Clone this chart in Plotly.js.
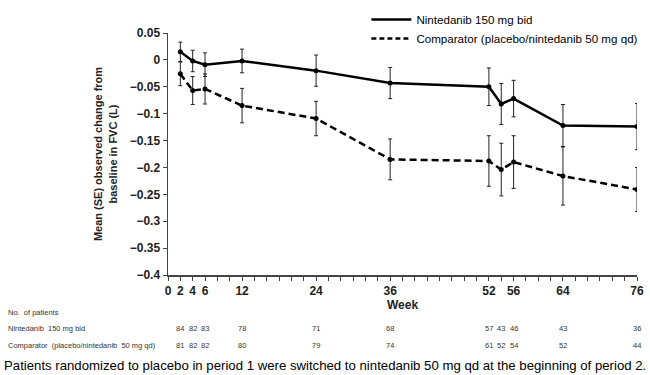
<!DOCTYPE html>
<html><head><meta charset="utf-8">
<script src="https://cdn.plot.ly/plotly-3.0.1.min.js"></script>
<style>html,body{margin:0;padding:0;background:#fff}#c{width:650px;height:375px}</style>
</head><body><div id="c"></div>
<script>
const weeks = [2,4,6,12,24,36,52,54,56,64,76];
const nintMean = [0.015,-0.002,-0.009,-0.002,-0.02,-0.043,-0.05,-0.082,-0.072,-0.122,-0.124];
const nintSE = [0.018,0.02,0.022,0.022,0.029,0.029,0.035,0.038,0.034,0.039,0.043];
const compMean = [-0.026,-0.057,-0.054,-0.085,-0.109,-0.185,-0.188,-0.204,-0.19,-0.216,-0.241];
const compSE = [0.022,0.026,0.028,0.032,0.032,0.038,0.047,0.049,0.049,0.054,0.041];
const nintN = [84,82,83,78,71,68,57,43,46,43,36];
const compN = [81,82,82,80,79,74,61,52,54,52,44];
const xTickVals = [0,2,4,6,12,24,36,52,56,64,76];
const seriesNames = ['Nintedanib 150 mg bid','Comparator (placebo/nintedanib 50 mg qd)'];
const rowLabels = ['Nintedanib  150 mg bid','Comparator  (placebo/nintedanib  50 mg qd)'];
const headerLabel = 'No.  of patients';
const caption = 'Patients randomized to placebo in period 1 were switched to nintedanib 50 mg qd at the beginning of period 2.';

const F = 'Liberation Sans, Arial, sans-serif';
const DASH = '7px,4px';
function series(y, se, dash){
  return {x: weeks, y: y, type:'scatter', mode:'lines+markers', showlegend:false,
    line:{color:'#000', width:2.5, dash:dash}, marker:{color:'#000', size:5},
    error_y:{type:'data', array:se, visible:true, color:'#222', thickness:1, width:2}};
}
const traces = [
  series(nintMean, nintSE, 'solid'),
  series(compMean, compSE, DASH),
  {x:[null], y:[null], type:'scatter', mode:'lines', name:seriesNames[0], line:{color:'#000', width:2.5}},
  {x:[null], y:[null], type:'scatter', mode:'lines', name:seriesNames[1], line:{color:'#000', width:2.5, dash:'5px,3px'}}
];
const ann = [];
const rowY = [-0.223, -0.293];
const small = {family:F, size:7.5, color:'#333'};
ann.push({xref:'paper', yref:'paper', x:-0.345, y:-0.157, xanchor:'left', yanchor:'middle', text:headerLabel, showarrow:false, font:small});
[nintN, compN].forEach((arr, r) => {
  ann.push({xref:'paper', yref:'paper', x:-0.345, y:rowY[r], xanchor:'left', yanchor:'middle', text:rowLabels[r], showarrow:false, font:small});
  arr.forEach((n, i) => ann.push({xref:'x', yref:'paper', x:weeks[i], y:rowY[r], xanchor:'center', yanchor:'middle', text:String(n), showarrow:false, font:small}));
});
ann.push({xref:'paper', yref:'paper', x:0.335, y:-0.376, xanchor:'center', yanchor:'middle', text:caption, showarrow:false, font:{family:F, size:13.2, color:'#000'}});

const layout = {
  width:650, height:375, margin:{l:168, r:13, t:33, b:100, autoexpand:false},
  paper_bgcolor:'#fff', plot_bgcolor:'#fff',
  font:{family:F, color:'#222'},
  xaxis:{range:[0,76], tickvals:xTickVals, ticktext:xTickVals.map(String), ticks:'outside', ticklen:4, tickcolor:'#444',
    showline:true, linecolor:'#444', linewidth:1.5, showgrid:false, zeroline:false,
    minor:{dtick:2, tick0:0, ticks:'outside', ticklen:4, tickcolor:'#444', showgrid:false},
    tickfont:{family:F, size:12, color:'#222', weight:'bold'},
    title:{text:'Week', standoff:3, font:{family:F, size:12, color:'#222', weight:'bold'}}},
  yaxis:{range:[-0.4,0.05], dtick:0.05, tick0:0, ticks:'outside', ticklen:4, tickcolor:'#444',
    showline:true, linecolor:'#444', linewidth:1.5, showgrid:false, zeroline:false,
    tickfont:{family:F, size:12, color:'#222', weight:'bold'},
    title:{text:'Mean (SE) observed change from<br>baseline in FVC (L)', standoff:10, font:{family:F, size:11, color:'#222', weight:'bold'}}},
  legend:{x:0.423, y:1.116, xanchor:'left', yanchor:'top', bgcolor:'rgba(0,0,0,0)', font:{family:F, size:11.6, color:'#000'}, tracegroupgap:0, itemwidth:40},
  annotations: ann
};
Plotly.newPlot('c', traces, layout, {staticPlot:true, displayModeBar:false});
</script></body></html>
